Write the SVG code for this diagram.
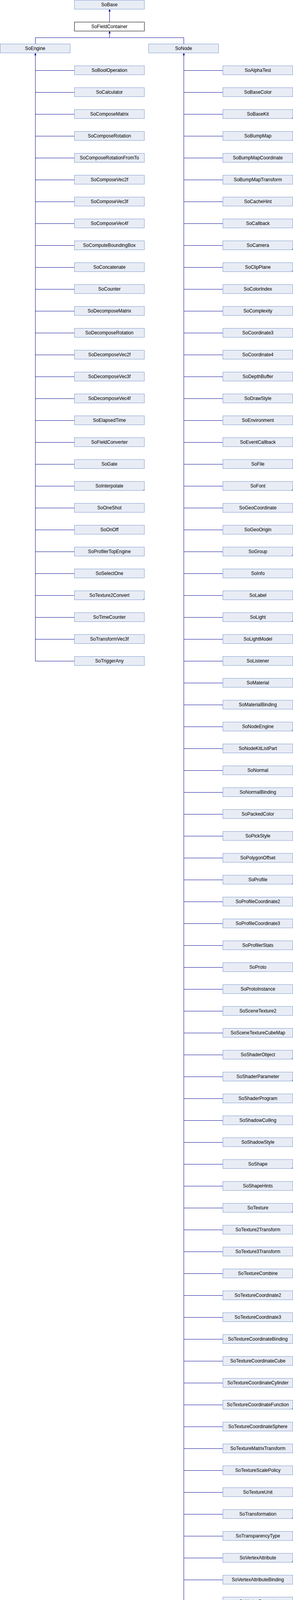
<svg xmlns="http://www.w3.org/2000/svg" width="750" height="5512" viewBox="0 0 750 5512">
<style>
.b{fill:#E8ECF5;stroke:#7F9BD0;stroke-width:1}
.cur{fill:#FFFFFF;stroke:#000000;stroke-width:1}
.t{font-family:"Liberation Sans",Arial,Helvetica,sans-serif;font-size:12px;fill:#000000;text-anchor:middle}
.m{fill:#7F9BD0;stroke:none}
.e{fill:none;stroke:#0A0A96;stroke-width:1}
.a{fill:#0A0A96;stroke:none}
</style>
<defs>
<polygon id="arr" class="a" points="-1,0 1,0 2.5,5 -2.5,5"/>
</defs>
<rect width="750" height="5512" fill="#FFFFFF"/>
<g id="connectors">
<path class="e" d="M280.5,29 V56 M280.5,85 V96.5 M90.5,96.5 H470.5 M90.5,96.5 V112 M470.5,96.5 V112"/>
<path class="e" d="M90.5,141 V1692.5 M90.5,180.5 H190.5 M90.5,236.5 H190.5 M90.5,292.5 H190.5 M90.5,348.5 H190.5 M90.5,404.5 H190.5 M90.5,460.5 H190.5 M90.5,516.5 H190.5 M90.5,572.5 H190.5 M90.5,628.5 H190.5 M90.5,684.5 H190.5 M90.5,740.5 H190.5 M90.5,796.5 H190.5 M90.5,852.5 H190.5 M90.5,908.5 H190.5 M90.5,964.5 H190.5 M90.5,1020.5 H190.5 M90.5,1076.5 H190.5 M90.5,1132.5 H190.5 M90.5,1188.5 H190.5 M90.5,1244.5 H190.5 M90.5,1300.5 H190.5 M90.5,1356.5 H190.5 M90.5,1412.5 H190.5 M90.5,1468.5 H190.5 M90.5,1524.5 H190.5 M90.5,1580.5 H190.5 M90.5,1636.5 H190.5 M90.5,1692.5 H190.5"/>
<path class="e" d="M470.5,141 V5500.5 M470.5,180.5 H570.5 M470.5,236.5 H570.5 M470.5,292.5 H570.5 M470.5,348.5 H570.5 M470.5,404.5 H570.5 M470.5,460.5 H570.5 M470.5,516.5 H570.5 M470.5,572.5 H570.5 M470.5,628.5 H570.5 M470.5,684.5 H570.5 M470.5,740.5 H570.5 M470.5,796.5 H570.5 M470.5,852.5 H570.5 M470.5,908.5 H570.5 M470.5,964.5 H570.5 M470.5,1020.5 H570.5 M470.5,1076.5 H570.5 M470.5,1132.5 H570.5 M470.5,1188.5 H570.5 M470.5,1244.5 H570.5 M470.5,1300.5 H570.5 M470.5,1356.5 H570.5 M470.5,1412.5 H570.5 M470.5,1468.5 H570.5 M470.5,1524.5 H570.5 M470.5,1580.5 H570.5 M470.5,1636.5 H570.5 M470.5,1692.5 H570.5 M470.5,1748.5 H570.5 M470.5,1804.5 H570.5 M470.5,1860.5 H570.5 M470.5,1916.5 H570.5 M470.5,1972.5 H570.5 M470.5,2028.5 H570.5 M470.5,2084.5 H570.5 M470.5,2140.5 H570.5 M470.5,2196.5 H570.5 M470.5,2252.5 H570.5 M470.5,2308.5 H570.5 M470.5,2364.5 H570.5 M470.5,2420.5 H570.5 M470.5,2476.5 H570.5 M470.5,2532.5 H570.5 M470.5,2588.5 H570.5 M470.5,2644.5 H570.5 M470.5,2700.5 H570.5 M470.5,2756.5 H570.5 M470.5,2812.5 H570.5 M470.5,2868.5 H570.5 M470.5,2924.5 H570.5 M470.5,2980.5 H570.5 M470.5,3036.5 H570.5 M470.5,3092.5 H570.5 M470.5,3148.5 H570.5 M470.5,3204.5 H570.5 M470.5,3260.5 H570.5 M470.5,3316.5 H570.5 M470.5,3372.5 H570.5 M470.5,3428.5 H570.5 M470.5,3484.5 H570.5 M470.5,3540.5 H570.5 M470.5,3596.5 H570.5 M470.5,3652.5 H570.5 M470.5,3708.5 H570.5 M470.5,3764.5 H570.5 M470.5,3820.5 H570.5 M470.5,3876.5 H570.5 M470.5,3932.5 H570.5 M470.5,3988.5 H570.5 M470.5,4044.5 H570.5 M470.5,4100.5 H570.5 M470.5,4156.5 H570.5 M470.5,4212.5 H570.5 M470.5,4268.5 H570.5 M470.5,4324.5 H570.5 M470.5,4380.5 H570.5 M470.5,4436.5 H570.5 M470.5,4492.5 H570.5 M470.5,4548.5 H570.5 M470.5,4604.5 H570.5 M470.5,4660.5 H570.5 M470.5,4716.5 H570.5 M470.5,4772.5 H570.5 M470.5,4828.5 H570.5 M470.5,4884.5 H570.5 M470.5,4940.5 H570.5 M470.5,4996.5 H570.5 M470.5,5052.5 H570.5 M470.5,5108.5 H570.5 M470.5,5164.5 H570.5 M470.5,5220.5 H570.5 M470.5,5276.5 H570.5 M470.5,5332.5 H570.5 M470.5,5388.5 H570.5 M470.5,5444.5 H570.5 M470.5,5500.5 H570.5"/>
<use href="#arr" x="280.5" y="24.5"/>
<use href="#arr" x="280.5" y="80.5"/>
<use href="#arr" x="90.5" y="136.5"/>
<use href="#arr" x="470.5" y="136.5"/>
</g>
<g id="SoBase" transform="translate(190,0)"><rect class="b" x="0.5" y="0.5" width="179" height="23"/><text class="t" x="90" y="16">SoBase</text></g>
<g id="SoFieldContainer" transform="translate(190,56)"><rect class="cur" x="0.5" y="0.5" width="179" height="23"/><text class="t" x="90" y="16">SoFieldContainer</text></g>
<g id="SoEngine" transform="translate(0,112)"><rect class="b" x="0.5" y="0.5" width="179" height="23"/><text class="t" x="90" y="16">SoEngine</text></g>
<g id="SoNode" transform="translate(380,112)"><rect class="b" x="0.5" y="0.5" width="179" height="23"/><text class="t" x="90" y="16">SoNode</text></g>
<g id="SoBoolOperation" transform="translate(190,168)"><rect class="b" x="0.5" y="0.5" width="179" height="23"/><text class="t" x="90" y="16">SoBoolOperation</text></g>
<g id="SoCalculator" transform="translate(190,224)"><rect class="b" x="0.5" y="0.5" width="179" height="23"/><text class="t" x="90" y="16">SoCalculator</text></g>
<g id="SoComposeMatrix" transform="translate(190,280)"><rect class="b" x="0.5" y="0.5" width="179" height="23"/><text class="t" x="90" y="16">SoComposeMatrix</text></g>
<g id="SoComposeRotation" transform="translate(190,336)"><rect class="b" x="0.5" y="0.5" width="179" height="23"/><text class="t" x="90" y="16">SoComposeRotation</text></g>
<g id="SoComposeRotationFromTo" transform="translate(190,392)"><rect class="b" x="0.5" y="0.5" width="179" height="23"/><text class="t" x="90" y="16">SoComposeRotationFromTo</text></g>
<g id="SoComposeVec2f" transform="translate(190,448)"><rect class="b" x="0.5" y="0.5" width="179" height="23"/><text class="t" x="90" y="16">SoComposeVec2f</text></g>
<g id="SoComposeVec3f" transform="translate(190,504)"><rect class="b" x="0.5" y="0.5" width="179" height="23"/><text class="t" x="90" y="16">SoComposeVec3f</text></g>
<g id="SoComposeVec4f" transform="translate(190,560)"><rect class="b" x="0.5" y="0.5" width="179" height="23"/><text class="t" x="90" y="16">SoComposeVec4f</text></g>
<g id="SoComputeBoundingBox" transform="translate(190,616)"><rect class="b" x="0.5" y="0.5" width="179" height="23"/><text class="t" x="90" y="16">SoComputeBoundingBox</text></g>
<g id="SoConcatenate" transform="translate(190,672)"><rect class="b" x="0.5" y="0.5" width="179" height="23"/><text class="t" x="90" y="16">SoConcatenate</text></g>
<g id="SoCounter" transform="translate(190,728)"><rect class="b" x="0.5" y="0.5" width="179" height="23"/><text class="t" x="90" y="16">SoCounter</text></g>
<g id="SoDecomposeMatrix" transform="translate(190,784)"><rect class="b" x="0.5" y="0.5" width="179" height="23"/><text class="t" x="90" y="16">SoDecomposeMatrix</text></g>
<g id="SoDecomposeRotation" transform="translate(190,840)"><rect class="b" x="0.5" y="0.5" width="179" height="23"/><text class="t" x="90" y="16">SoDecomposeRotation</text></g>
<g id="SoDecomposeVec2f" transform="translate(190,896)"><rect class="b" x="0.5" y="0.5" width="179" height="23"/><text class="t" x="90" y="16">SoDecomposeVec2f</text></g>
<g id="SoDecomposeVec3f" transform="translate(190,952)"><rect class="b" x="0.5" y="0.5" width="179" height="23"/><text class="t" x="90" y="16">SoDecomposeVec3f</text></g>
<g id="SoDecomposeVec4f" transform="translate(190,1008)"><rect class="b" x="0.5" y="0.5" width="179" height="23"/><text class="t" x="90" y="16">SoDecomposeVec4f</text></g>
<g id="SoElapsedTime" transform="translate(190,1064)"><rect class="b" x="0.5" y="0.5" width="179" height="23"/><text class="t" x="90" y="16">SoElapsedTime</text></g>
<g id="SoFieldConverter" transform="translate(190,1120)"><rect class="b" x="0.5" y="0.5" width="179" height="23"/><text class="t" x="90" y="16">SoFieldConverter</text></g>
<g id="SoGate" transform="translate(190,1176)"><rect class="b" x="0.5" y="0.5" width="179" height="23"/><text class="t" x="90" y="16">SoGate</text></g>
<g id="SoInterpolate" transform="translate(190,1232)"><rect class="b" x="0.5" y="0.5" width="179" height="23"/><polygon class="m" points="179.5,19.5 179.5,23.5 175.5,23.5"/><text class="t" x="90" y="16">SoInterpolate</text></g>
<g id="SoOneShot" transform="translate(190,1288)"><rect class="b" x="0.5" y="0.5" width="179" height="23"/><text class="t" x="90" y="16">SoOneShot</text></g>
<g id="SoOnOff" transform="translate(190,1344)"><rect class="b" x="0.5" y="0.5" width="179" height="23"/><text class="t" x="90" y="16">SoOnOff</text></g>
<g id="SoProfilerTopEngine" transform="translate(190,1400)"><rect class="b" x="0.5" y="0.5" width="179" height="23"/><text class="t" x="90" y="16">SoProfilerTopEngine</text></g>
<g id="SoSelectOne" transform="translate(190,1456)"><rect class="b" x="0.5" y="0.5" width="179" height="23"/><text class="t" x="90" y="16">SoSelectOne</text></g>
<g id="SoTexture2Convert" transform="translate(190,1512)"><rect class="b" x="0.5" y="0.5" width="179" height="23"/><polygon class="m" points="179.5,19.5 179.5,23.5 175.5,23.5"/><text class="t" x="90" y="16">SoTexture2Convert</text></g>
<g id="SoTimeCounter" transform="translate(190,1568)"><rect class="b" x="0.5" y="0.5" width="179" height="23"/><text class="t" x="90" y="16">SoTimeCounter</text></g>
<g id="SoTransformVec3f" transform="translate(190,1624)"><rect class="b" x="0.5" y="0.5" width="179" height="23"/><text class="t" x="90" y="16">SoTransformVec3f</text></g>
<g id="SoTriggerAny" transform="translate(190,1680)"><rect class="b" x="0.5" y="0.5" width="179" height="23"/><text class="t" x="90" y="16">SoTriggerAny</text></g>
<g id="SoAlphaTest" transform="translate(570,168)"><rect class="b" x="0.5" y="0.5" width="179" height="23"/><text class="t" x="90" y="16">SoAlphaTest</text></g>
<g id="SoBaseColor" transform="translate(570,224)"><rect class="b" x="0.5" y="0.5" width="179" height="23"/><text class="t" x="90" y="16">SoBaseColor</text></g>
<g id="SoBaseKit" transform="translate(570,280)"><rect class="b" x="0.5" y="0.5" width="179" height="23"/><polygon class="m" points="179.5,19.5 179.5,23.5 175.5,23.5"/><text class="t" x="90" y="16">SoBaseKit</text></g>
<g id="SoBumpMap" transform="translate(570,336)"><rect class="b" x="0.5" y="0.5" width="179" height="23"/><text class="t" x="90" y="16">SoBumpMap</text></g>
<g id="SoBumpMapCoordinate" transform="translate(570,392)"><rect class="b" x="0.5" y="0.5" width="179" height="23"/><text class="t" x="90" y="16">SoBumpMapCoordinate</text></g>
<g id="SoBumpMapTransform" transform="translate(570,448)"><rect class="b" x="0.5" y="0.5" width="179" height="23"/><text class="t" x="90" y="16">SoBumpMapTransform</text></g>
<g id="SoCacheHint" transform="translate(570,504)"><rect class="b" x="0.5" y="0.5" width="179" height="23"/><text class="t" x="90" y="16">SoCacheHint</text></g>
<g id="SoCallback" transform="translate(570,560)"><rect class="b" x="0.5" y="0.5" width="179" height="23"/><text class="t" x="90" y="16">SoCallback</text></g>
<g id="SoCamera" transform="translate(570,616)"><rect class="b" x="0.5" y="0.5" width="179" height="23"/><polygon class="m" points="179.5,19.5 179.5,23.5 175.5,23.5"/><text class="t" x="90" y="16">SoCamera</text></g>
<g id="SoClipPlane" transform="translate(570,672)"><rect class="b" x="0.5" y="0.5" width="179" height="23"/><polygon class="m" points="179.5,19.5 179.5,23.5 175.5,23.5"/><text class="t" x="90" y="16">SoClipPlane</text></g>
<g id="SoColorIndex" transform="translate(570,728)"><rect class="b" x="0.5" y="0.5" width="179" height="23"/><text class="t" x="90" y="16">SoColorIndex</text></g>
<g id="SoComplexity" transform="translate(570,784)"><rect class="b" x="0.5" y="0.5" width="179" height="23"/><text class="t" x="90" y="16">SoComplexity</text></g>
<g id="SoCoordinate3" transform="translate(570,840)"><rect class="b" x="0.5" y="0.5" width="179" height="23"/><text class="t" x="90" y="16">SoCoordinate3</text></g>
<g id="SoCoordinate4" transform="translate(570,896)"><rect class="b" x="0.5" y="0.5" width="179" height="23"/><text class="t" x="90" y="16">SoCoordinate4</text></g>
<g id="SoDepthBuffer" transform="translate(570,952)"><rect class="b" x="0.5" y="0.5" width="179" height="23"/><text class="t" x="90" y="16">SoDepthBuffer</text></g>
<g id="SoDrawStyle" transform="translate(570,1008)"><rect class="b" x="0.5" y="0.5" width="179" height="23"/><text class="t" x="90" y="16">SoDrawStyle</text></g>
<g id="SoEnvironment" transform="translate(570,1064)"><rect class="b" x="0.5" y="0.5" width="179" height="23"/><text class="t" x="90" y="16">SoEnvironment</text></g>
<g id="SoEventCallback" transform="translate(570,1120)"><rect class="b" x="0.5" y="0.5" width="179" height="23"/><text class="t" x="90" y="16">SoEventCallback</text></g>
<g id="SoFile" transform="translate(570,1176)"><rect class="b" x="0.5" y="0.5" width="179" height="23"/><text class="t" x="90" y="16">SoFile</text></g>
<g id="SoFont" transform="translate(570,1232)"><rect class="b" x="0.5" y="0.5" width="179" height="23"/><polygon class="m" points="179.5,19.5 179.5,23.5 175.5,23.5"/><text class="t" x="90" y="16">SoFont</text></g>
<g id="SoGeoCoordinate" transform="translate(570,1288)"><rect class="b" x="0.5" y="0.5" width="179" height="23"/><text class="t" x="90" y="16">SoGeoCoordinate</text></g>
<g id="SoGeoOrigin" transform="translate(570,1344)"><rect class="b" x="0.5" y="0.5" width="179" height="23"/><text class="t" x="90" y="16">SoGeoOrigin</text></g>
<g id="SoGroup" transform="translate(570,1400)"><rect class="b" x="0.5" y="0.5" width="179" height="23"/><polygon class="m" points="179.5,19.5 179.5,23.5 175.5,23.5"/><text class="t" x="90" y="16">SoGroup</text></g>
<g id="SoInfo" transform="translate(570,1456)"><rect class="b" x="0.5" y="0.5" width="179" height="23"/><text class="t" x="90" y="16">SoInfo</text></g>
<g id="SoLabel" transform="translate(570,1512)"><rect class="b" x="0.5" y="0.5" width="179" height="23"/><text class="t" x="90" y="16">SoLabel</text></g>
<g id="SoLight" transform="translate(570,1568)"><rect class="b" x="0.5" y="0.5" width="179" height="23"/><polygon class="m" points="179.5,19.5 179.5,23.5 175.5,23.5"/><text class="t" x="90" y="16">SoLight</text></g>
<g id="SoLightModel" transform="translate(570,1624)"><rect class="b" x="0.5" y="0.5" width="179" height="23"/><text class="t" x="90" y="16">SoLightModel</text></g>
<g id="SoListener" transform="translate(570,1680)"><rect class="b" x="0.5" y="0.5" width="179" height="23"/><text class="t" x="90" y="16">SoListener</text></g>
<g id="SoMaterial" transform="translate(570,1736)"><rect class="b" x="0.5" y="0.5" width="179" height="23"/><text class="t" x="90" y="16">SoMaterial</text></g>
<g id="SoMaterialBinding" transform="translate(570,1792)"><rect class="b" x="0.5" y="0.5" width="179" height="23"/><text class="t" x="90" y="16">SoMaterialBinding</text></g>
<g id="SoNodeEngine" transform="translate(570,1848)"><rect class="b" x="0.5" y="0.5" width="179" height="23"/><polygon class="m" points="179.5,19.5 179.5,23.5 175.5,23.5"/><text class="t" x="90" y="16">SoNodeEngine</text></g>
<g id="SoNodeKitListPart" transform="translate(570,1904)"><rect class="b" x="0.5" y="0.5" width="179" height="23"/><text class="t" x="90" y="16">SoNodeKitListPart</text></g>
<g id="SoNormal" transform="translate(570,1960)"><rect class="b" x="0.5" y="0.5" width="179" height="23"/><text class="t" x="90" y="16">SoNormal</text></g>
<g id="SoNormalBinding" transform="translate(570,2016)"><rect class="b" x="0.5" y="0.5" width="179" height="23"/><text class="t" x="90" y="16">SoNormalBinding</text></g>
<g id="SoPackedColor" transform="translate(570,2072)"><rect class="b" x="0.5" y="0.5" width="179" height="23"/><text class="t" x="90" y="16">SoPackedColor</text></g>
<g id="SoPickStyle" transform="translate(570,2128)"><rect class="b" x="0.5" y="0.5" width="179" height="23"/><text class="t" x="90" y="16">SoPickStyle</text></g>
<g id="SoPolygonOffset" transform="translate(570,2184)"><rect class="b" x="0.5" y="0.5" width="179" height="23"/><text class="t" x="90" y="16">SoPolygonOffset</text></g>
<g id="SoProfile" transform="translate(570,2240)"><rect class="b" x="0.5" y="0.5" width="179" height="23"/><polygon class="m" points="179.5,19.5 179.5,23.5 175.5,23.5"/><text class="t" x="90" y="16">SoProfile</text></g>
<g id="SoProfileCoordinate2" transform="translate(570,2296)"><rect class="b" x="0.5" y="0.5" width="179" height="23"/><text class="t" x="90" y="16">SoProfileCoordinate2</text></g>
<g id="SoProfileCoordinate3" transform="translate(570,2352)"><rect class="b" x="0.5" y="0.5" width="179" height="23"/><text class="t" x="90" y="16">SoProfileCoordinate3</text></g>
<g id="SoProfilerStats" transform="translate(570,2408)"><rect class="b" x="0.5" y="0.5" width="179" height="23"/><text class="t" x="90" y="16">SoProfilerStats</text></g>
<g id="SoProto" transform="translate(570,2464)"><rect class="b" x="0.5" y="0.5" width="179" height="23"/><text class="t" x="90" y="16">SoProto</text></g>
<g id="SoProtoInstance" transform="translate(570,2520)"><rect class="b" x="0.5" y="0.5" width="179" height="23"/><text class="t" x="90" y="16">SoProtoInstance</text></g>
<g id="SoSceneTexture2" transform="translate(570,2576)"><rect class="b" x="0.5" y="0.5" width="179" height="23"/><text class="t" x="90" y="16">SoSceneTexture2</text></g>
<g id="SoSceneTextureCubeMap" transform="translate(570,2632)"><rect class="b" x="0.5" y="0.5" width="179" height="23"/><text class="t" x="90" y="16">SoSceneTextureCubeMap</text></g>
<g id="SoShaderObject" transform="translate(570,2688)"><rect class="b" x="0.5" y="0.5" width="179" height="23"/><polygon class="m" points="179.5,19.5 179.5,23.5 175.5,23.5"/><text class="t" x="90" y="16">SoShaderObject</text></g>
<g id="SoShaderParameter" transform="translate(570,2744)"><rect class="b" x="0.5" y="0.5" width="179" height="23"/><polygon class="m" points="179.5,19.5 179.5,23.5 175.5,23.5"/><text class="t" x="90" y="16">SoShaderParameter</text></g>
<g id="SoShaderProgram" transform="translate(570,2800)"><rect class="b" x="0.5" y="0.5" width="179" height="23"/><text class="t" x="90" y="16">SoShaderProgram</text></g>
<g id="SoShadowCulling" transform="translate(570,2856)"><rect class="b" x="0.5" y="0.5" width="179" height="23"/><text class="t" x="90" y="16">SoShadowCulling</text></g>
<g id="SoShadowStyle" transform="translate(570,2912)"><rect class="b" x="0.5" y="0.5" width="179" height="23"/><text class="t" x="90" y="16">SoShadowStyle</text></g>
<g id="SoShape" transform="translate(570,2968)"><rect class="b" x="0.5" y="0.5" width="179" height="23"/><polygon class="m" points="179.5,19.5 179.5,23.5 175.5,23.5"/><text class="t" x="90" y="16">SoShape</text></g>
<g id="SoShapeHints" transform="translate(570,3024)"><rect class="b" x="0.5" y="0.5" width="179" height="23"/><text class="t" x="90" y="16">SoShapeHints</text></g>
<g id="SoTexture" transform="translate(570,3080)"><rect class="b" x="0.5" y="0.5" width="179" height="23"/><polygon class="m" points="179.5,19.5 179.5,23.5 175.5,23.5"/><text class="t" x="90" y="16">SoTexture</text></g>
<g id="SoTexture2Transform" transform="translate(570,3136)"><rect class="b" x="0.5" y="0.5" width="179" height="23"/><text class="t" x="90" y="16">SoTexture2Transform</text></g>
<g id="SoTexture3Transform" transform="translate(570,3192)"><rect class="b" x="0.5" y="0.5" width="179" height="23"/><text class="t" x="90" y="16">SoTexture3Transform</text></g>
<g id="SoTextureCombine" transform="translate(570,3248)"><rect class="b" x="0.5" y="0.5" width="179" height="23"/><text class="t" x="90" y="16">SoTextureCombine</text></g>
<g id="SoTextureCoordinate2" transform="translate(570,3304)"><rect class="b" x="0.5" y="0.5" width="179" height="23"/><text class="t" x="90" y="16">SoTextureCoordinate2</text></g>
<g id="SoTextureCoordinate3" transform="translate(570,3360)"><rect class="b" x="0.5" y="0.5" width="179" height="23"/><text class="t" x="90" y="16">SoTextureCoordinate3</text></g>
<g id="SoTextureCoordinateBinding" transform="translate(570,3416)"><rect class="b" x="0.5" y="0.5" width="179" height="23"/><text class="t" x="90" y="16">SoTextureCoordinateBinding</text></g>
<g id="SoTextureCoordinateCube" transform="translate(570,3472)"><rect class="b" x="0.5" y="0.5" width="179" height="23"/><text class="t" x="90" y="16">SoTextureCoordinateCube</text></g>
<g id="SoTextureCoordinateCylinder" transform="translate(570,3528)"><rect class="b" x="0.5" y="0.5" width="179" height="23"/><text class="t" x="90" y="16">SoTextureCoordinateCylinder</text></g>
<g id="SoTextureCoordinateFunction" transform="translate(570,3584)"><rect class="b" x="0.5" y="0.5" width="179" height="23"/><polygon class="m" points="179.5,19.5 179.5,23.5 175.5,23.5"/><text class="t" x="90" y="16">SoTextureCoordinateFunction</text></g>
<g id="SoTextureCoordinateSphere" transform="translate(570,3640)"><rect class="b" x="0.5" y="0.5" width="179" height="23"/><text class="t" x="90" y="16">SoTextureCoordinateSphere</text></g>
<g id="SoTextureMatrixTransform" transform="translate(570,3696)"><rect class="b" x="0.5" y="0.5" width="179" height="23"/><text class="t" x="90" y="16">SoTextureMatrixTransform</text></g>
<g id="SoTextureScalePolicy" transform="translate(570,3752)"><rect class="b" x="0.5" y="0.5" width="179" height="23"/><text class="t" x="90" y="16">SoTextureScalePolicy</text></g>
<g id="SoTextureUnit" transform="translate(570,3808)"><rect class="b" x="0.5" y="0.5" width="179" height="23"/><text class="t" x="90" y="16">SoTextureUnit</text></g>
<g id="SoTransformation" transform="translate(570,3864)"><rect class="b" x="0.5" y="0.5" width="179" height="23"/><polygon class="m" points="179.5,19.5 179.5,23.5 175.5,23.5"/><text class="t" x="90" y="16">SoTransformation</text></g>
<g id="SoTransparencyType" transform="translate(570,3920)"><rect class="b" x="0.5" y="0.5" width="179" height="23"/><text class="t" x="90" y="16">SoTransparencyType</text></g>
<g id="SoVertexAttribute" transform="translate(570,3976)"><rect class="b" x="0.5" y="0.5" width="179" height="23"/><polygon class="m" points="179.5,19.5 179.5,23.5 175.5,23.5"/><text class="t" x="90" y="16">SoVertexAttribute</text></g>
<g id="SoVertexAttributeBinding" transform="translate(570,4032)"><rect class="b" x="0.5" y="0.5" width="179" height="23"/><text class="t" x="90" y="16">SoVertexAttributeBinding</text></g>
<g id="SoVertexProperty" transform="translate(570,4088)"><rect class="b" x="0.5" y="0.5" width="179" height="23"/><text class="t" x="90" y="16">SoVertexProperty</text></g>
<g id="SoVRMLAppearance" transform="translate(570,4144)"><rect class="b" x="0.5" y="0.5" width="179" height="23"/><text class="t" x="90" y="16">SoVRMLAppearance</text></g>
<g id="SoVRMLAudioClip" transform="translate(570,4200)"><rect class="b" x="0.5" y="0.5" width="179" height="23"/><text class="t" x="90" y="16">SoVRMLAudioClip</text></g>
<g id="SoVRMLBackground" transform="translate(570,4256)"><rect class="b" x="0.5" y="0.5" width="179" height="23"/><text class="t" x="90" y="16">SoVRMLBackground</text></g>
<g id="SoVRMLColor" transform="translate(570,4312)"><rect class="b" x="0.5" y="0.5" width="179" height="23"/><text class="t" x="90" y="16">SoVRMLColor</text></g>
<g id="SoVRMLCoordinate" transform="translate(570,4368)"><rect class="b" x="0.5" y="0.5" width="179" height="23"/><text class="t" x="90" y="16">SoVRMLCoordinate</text></g>
<g id="SoVRMLFog" transform="translate(570,4424)"><rect class="b" x="0.5" y="0.5" width="179" height="23"/><text class="t" x="90" y="16">SoVRMLFog</text></g>
<g id="SoVRMLFontStyle" transform="translate(570,4480)"><rect class="b" x="0.5" y="0.5" width="179" height="23"/><text class="t" x="90" y="16">SoVRMLFontStyle</text></g>
<g id="SoVRMLInline" transform="translate(570,4536)"><rect class="b" x="0.5" y="0.5" width="179" height="23"/><text class="t" x="90" y="16">SoVRMLInline</text></g>
<g id="SoVRMLLight" transform="translate(570,4592)"><rect class="b" x="0.5" y="0.5" width="179" height="23"/><polygon class="m" points="179.5,19.5 179.5,23.5 175.5,23.5"/><text class="t" x="90" y="16">SoVRMLLight</text></g>
<g id="SoVRMLMaterial" transform="translate(570,4648)"><rect class="b" x="0.5" y="0.5" width="179" height="23"/><text class="t" x="90" y="16">SoVRMLMaterial</text></g>
<g id="SoVRMLNavigationInfo" transform="translate(570,4704)"><rect class="b" x="0.5" y="0.5" width="179" height="23"/><text class="t" x="90" y="16">SoVRMLNavigationInfo</text></g>
<g id="SoVRMLNormal" transform="translate(570,4760)"><rect class="b" x="0.5" y="0.5" width="179" height="23"/><text class="t" x="90" y="16">SoVRMLNormal</text></g>
<g id="SoVRMLProximitySensor" transform="translate(570,4816)"><rect class="b" x="0.5" y="0.5" width="179" height="23"/><text class="t" x="90" y="16">SoVRMLProximitySensor</text></g>
<g id="SoVRMLScript" transform="translate(570,4872)"><rect class="b" x="0.5" y="0.5" width="179" height="23"/><text class="t" x="90" y="16">SoVRMLScript</text></g>
<g id="SoVRMLSensor" transform="translate(570,4928)"><rect class="b" x="0.5" y="0.5" width="179" height="23"/><polygon class="m" points="179.5,19.5 179.5,23.5 175.5,23.5"/><text class="t" x="90" y="16">SoVRMLSensor</text></g>
<g id="SoVRMLShape" transform="translate(570,4984)"><rect class="b" x="0.5" y="0.5" width="179" height="23"/><text class="t" x="90" y="16">SoVRMLShape</text></g>
<g id="SoVRMLSound" transform="translate(570,5040)"><rect class="b" x="0.5" y="0.5" width="179" height="23"/><text class="t" x="90" y="16">SoVRMLSound</text></g>
<g id="SoVRMLTexture" transform="translate(570,5096)"><rect class="b" x="0.5" y="0.5" width="179" height="23"/><polygon class="m" points="179.5,19.5 179.5,23.5 175.5,23.5"/><text class="t" x="90" y="16">SoVRMLTexture</text></g>
<g id="SoVRMLTextureCoordinate" transform="translate(570,5152)"><rect class="b" x="0.5" y="0.5" width="179" height="23"/><text class="t" x="90" y="16">SoVRMLTextureCoordinate</text></g>
<g id="SoVRMLTextureTransform" transform="translate(570,5208)"><rect class="b" x="0.5" y="0.5" width="179" height="23"/><text class="t" x="90" y="16">SoVRMLTextureTransform</text></g>
<g id="SoVRMLTouchSensor" transform="translate(570,5264)"><rect class="b" x="0.5" y="0.5" width="179" height="23"/><text class="t" x="90" y="16">SoVRMLTouchSensor</text></g>
<g id="SoVRMLViewpoint" transform="translate(570,5320)"><rect class="b" x="0.5" y="0.5" width="179" height="23"/><text class="t" x="90" y="16">SoVRMLViewpoint</text></g>
<g id="SoVRMLVisibilitySensor" transform="translate(570,5376)"><rect class="b" x="0.5" y="0.5" width="179" height="23"/><text class="t" x="90" y="16">SoVRMLVisibilitySensor</text></g>
<g id="SoVRMLWorldInfo" transform="translate(570,5432)"><rect class="b" x="0.5" y="0.5" width="179" height="23"/><text class="t" x="90" y="16">SoVRMLWorldInfo</text></g>
<g id="SoWWWInline" transform="translate(570,5488)"><rect class="b" x="0.5" y="0.5" width="179" height="23"/><text class="t" x="90" y="16">SoWWWInline</text></g>
</svg>
